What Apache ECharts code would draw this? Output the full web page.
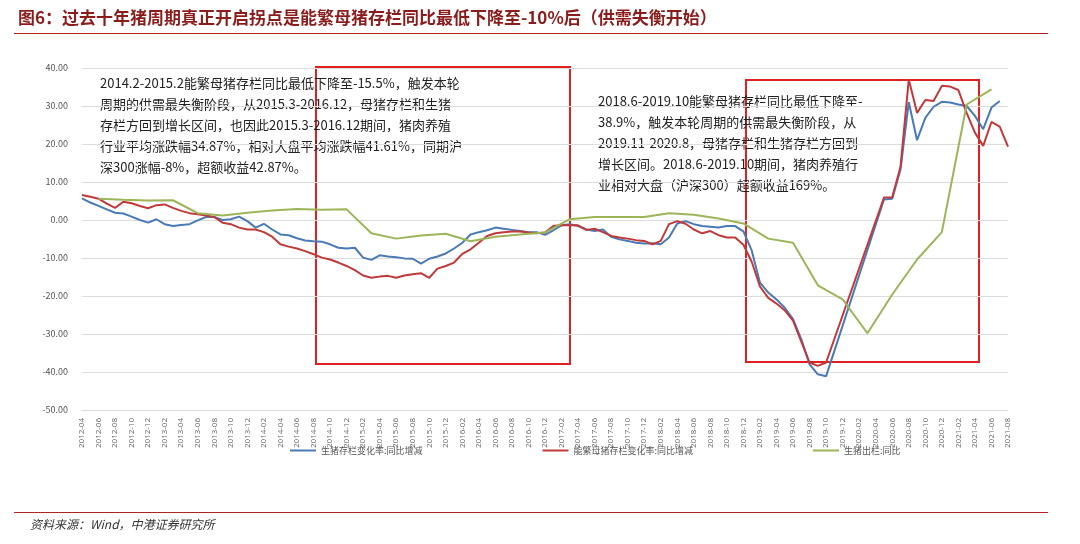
<!DOCTYPE html>
<html>
<head>
<meta charset="UTF-8">
<script src="https://cdn.jsdelivr.net/npm/echarts@6/dist/echarts.min.js"></script>
<style>body{margin:0;background:#fff}#c{width:1080px;height:544px}</style>
</head>
<body>
<div id="c"></div>
<script>
// months 2012-04 .. 2021-08
var months = [];
for (var y = 2012, m = 4; y < 2021 || (y == 2021 && m <= 8); m++) {
	if (m > 12) { m = 1; y++; }
	months.push(y + '-' + (m < 10 ? '0' + m : m));
}
var N = null;
// 生猪存栏变化率:同比增减
var hogStock = [5.7,4.6,3.7,2.8,1.9,1.7,0.9,0,-0.7,0.2,-1.1,-1.6,-1.3,-1.1,-0.1,0.8,0.8,0,0.2,0.9,-0.3,-2.0,-1.0,-2.5,
	-3.8,-4.0,-4.8,-5.4,-5.6,-5.7,-6.4,-7.3,-7.5,-7.3,-9.9,-10.5,-9.3,-9.6,-9.8,-10.1,-10.2,-11.5,-10.2,-9.6,-8.8,-7.5,-6.0,-3.8,
	-3.2,-2.7,-2.0,-2.3,-2.6,-2.9,-3.2,-3.2,-3.9,-2.7,-1.4,-1.1,-1.6,-2.5,-2.9,-2.5,-4.4,-5.1,-5.5,-6.0,-6.2,-6.1,-6.4,-4.6,
	-0.9,-0.3,-1.1,-1.6,-1.8,-2.0,-1.6,-1.6,-3.0,-8.0,-16.5,-19.1,-20.9,-23.1,-26.1,-31.4,-38.0,-40.6,-41.1,N,N,N,N,N,N,5.4,
	5.6,13.3,31.0,21.0,26.9,29.8,31.1,30.9,30.4,30.0,27.4,23.9,29.6,31.3,N];
// 能繁母猪存栏变化率:同比增减
var sowStock = [6.6,6.1,5.6,4.3,3.2,4.8,4.4,3.7,3.1,3.9,4.1,3.2,2.4,1.8,1.5,1.2,0.8,-0.7,-1.1,-2.0,-2.5,-2.5,-3.2,-4.4,
	-6.4,-7.0,-7.5,-8.2,-9.0,-9.9,-10.4,-11.2,-12.1,-13.2,-14.6,-15.2,-14.9,-14.7,-15.2,-14.6,-14.3,-14.0,-15.2,-12.8,-12.1,-11.2,-8.9,-7.7,
	-6.0,-4.2,-3.5,-3.2,-3.0,-3.0,-3.3,-3.5,-3.3,-1.6,-1.3,-1.4,-1.4,-2.6,-2.3,-3.2,-4.2,-4.6,-4.9,-5.3,-5.5,-6.4,-5.5,-1.1,
	-0.3,-1.0,-2.5,-3.5,-2.9,-4.0,-4.6,-4.6,-6.5,-11.0,-17.5,-20.5,-22.0,-23.8,-26.5,-32.0,-37.5,-38.4,-37.5,N,N,N,N,N,N,5.9,
	6.0,14.0,37.0,28.2,31.6,31.3,35.3,35.1,34.2,28.2,23.0,19.5,25.8,24.6,19.3];
// 生猪出栏:同比 (quarterly)
var hogSlaughter = [N,N,5.6,N,N,5.3,N,N,5.1,N,N,5.2,N,N,1.8,N,N,1.2,N,N,1.9,N,N,2.5,
	N,N,2.9,N,N,2.7,N,N,2.8,N,N,-3.5,N,N,-4.9,N,N,-4.1,N,N,-3.6,N,N,-5.6,
	N,N,-4.4,N,N,-3.8,N,N,-3.3,N,N,0.2,N,N,0.8,N,N,0.8,N,N,0.8,N,N,1.8,
	N,N,1.4,N,N,0.4,N,N,-0.9,N,N,-4.9,N,N,-6.0,N,N,-17.2,N,N,-20.9,N,N,-29.8,
	N,N,-19.6,N,N,-10.4,N,N,-3.2,N,N,30.4,N,N,34.4,N,N];

var note1 = ['2014.2-2015.2能繁母猪存栏同比最低下降至-15.5%，触发本轮',
	'周期的供需最失衡阶段，从2015.3-2016.12，母猪存栏和生猪',
	'存栏方回到增长区间，也因此2015.3-2016.12期间，猪肉养殖',
	'行业平均涨跌幅34.87%，相对大盘平均涨跌幅41.61%，同期沪',
	'深300涨幅-8%，超额收益42.87%。'].join('\n');
var note2 = ['2018.6-2019.10能繁母猪存栏同比最低下降至-',
	'38.9%，触发本轮周期的供需最失衡阶段，从',
	'2019.11-2020.8，母猪存栏和生猪存栏方回到',
	'增长区间。2018.6-2019.10期间，猪肉养殖行',
	'业相对大盘（沪深300）超额收益169%。'].join('\n');

var chart = echarts.init(document.getElementById('c'));
var font = '"Noto Sans CJK SC", sans-serif';
function line(name, data, color) {
	return {name: name, type: 'line', data: data, connectNulls: true, symbol: 'none',
		lineStyle: {color: color, width: 2}, itemStyle: {color: color}};
}
chart.setOption({
	animation: false,
	textStyle: {fontFamily: font},
	grid: {left: 82, right: 72, top: 68, bottom: 134},
	legend: {bottom: 84, left: 285, itemGap: 120, itemWidth: 26, itemHeight: 2, icon: 'rect',
		textStyle: {fontSize: 9, color: '#555'}},
	xAxis: {type: 'category', data: months, boundaryGap: false,
		axisLine: {show: false}, axisTick: {show: false},
		axisLabel: {interval: 1, rotate: 90, fontSize: 8, color: '#666', fontFamily: 'Open Sans'}},
	yAxis: {type: 'value', min: -50, max: 40, interval: 10,
		axisLabel: {formatter: function (v) { return v.toFixed(2); }, fontSize: 9, color: '#555', margin: 14},
		splitLine: {lineStyle: {color: '#ddd'}}},
	series: [
		line('生猪存栏变化率:同比增减', hogStock, '#4a7ab5'),
		line('能繁母猪存栏变化率:同比增减', sowStock, '#c0393b'),
		line('生猪出栏:同比', hogSlaughter, '#9bb659')
	],
	graphic: [
		{type: 'text', left: 18, top: 9, style: {text: '图6：过去十年猪周期真正开启拐点是能繁母猪存栏同比最低下降至-10%后（供需失衡开始）',
			font: 'bold 17px ' + font, fill: '#8b1c1c'}},
		{type: 'rect', shape: {x: 14, y: 33, width: 1034, height: 1}, style: {fill: '#b22222'}},
		{type: 'rect', shape: {x: 316, y: 67, width: 254, height: 297}, style: {fill: 'none', stroke: '#e02020', lineWidth: 2}},
		{type: 'rect', shape: {x: 746, y: 80, width: 233, height: 282}, style: {fill: 'none', stroke: '#e02020', lineWidth: 2}},
		{type: 'text', left: 100, top: 73, style: {text: note1, font: '13px ' + font, fill: '#222', lineHeight: 21}},
		{type: 'text', left: 598, top: 91, style: {text: note2, font: '13px ' + font, fill: '#222', lineHeight: 21}},
		{type: 'rect', shape: {x: 14, y: 512, width: 1034, height: 1}, style: {fill: '#b22222'}},
		{type: 'text', left: 30, top: 518, style: {text: '资料来源：Wind，中港证券研究所', font: 'italic 12px ' + font, fill: '#333'}}
	]
});
</script>
</body>
</html>
